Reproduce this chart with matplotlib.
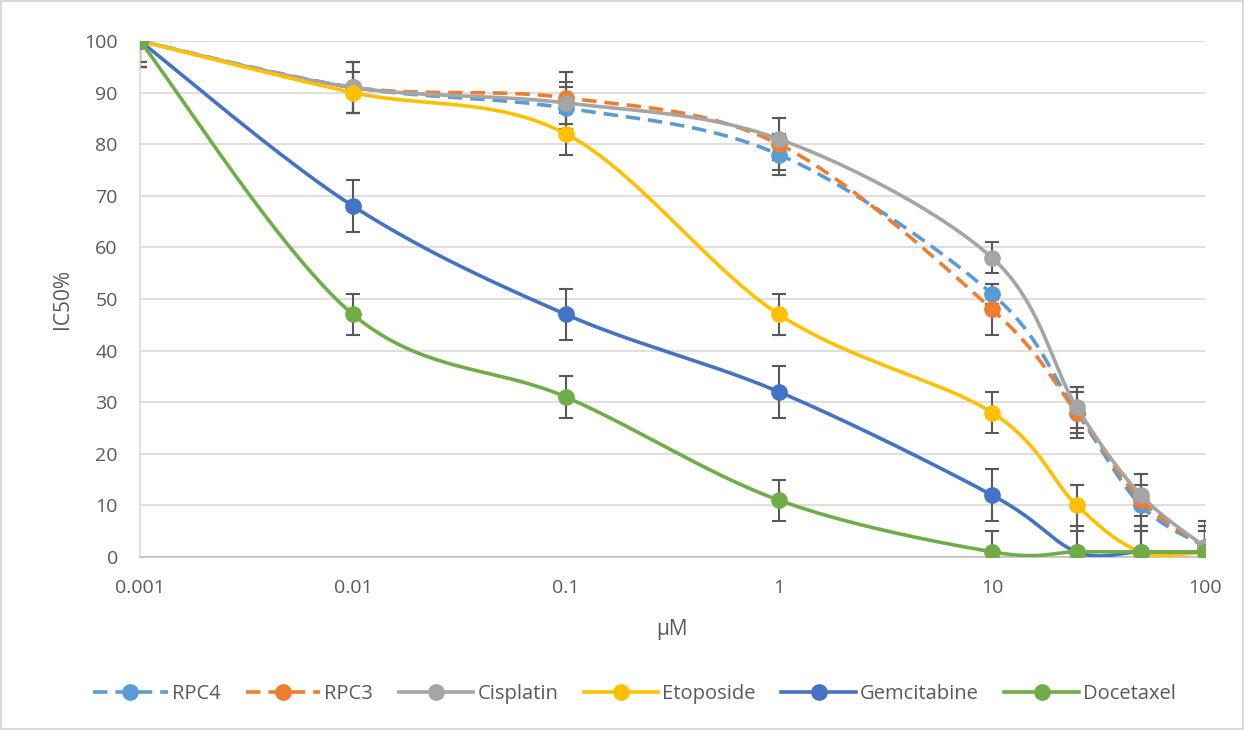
import numpy as np
import matplotlib.pyplot as plt

doses = [0.001, 0.01, 0.1, 1, 10, 25, 50, 100]
x_ticks = [0.001, 0.01, 0.1, 1, 10, 100]
x_tick_labels = ["0.001", "0.01", "0.1", "1", "10", "100"]

names = ["RPC4", "RPC3", "Cisplatin", "Etoposide", "Gemcitabine", "Docetaxel"]
rpc4 = [100, 91, 87, 78, 51, 28, 10, 2]
rpc3 = [100, 91, 89, 80, 48, 28, 11, 2]
cisplatin = [100, 91, 88, 81, 58, 29, 12, 2]
etoposide = [100, 90, 82, 47, 28, 10, 1, 1]
gemcitabine = [100, 68, 47, 32, 12, 1, 1, 1]
docetaxel = [100, 47, 31, 11, 1, 1, 1, 1]

rpc4_err = [5, 5, 4, 4, 2, 4, 4, 4]
rpc3_err = [5, 5, 5, 5, 5, 5, 5, 5]
cisplatin_err = [5, 5, 4, 4, 3, 4, 4, 4]
etoposide_err = [4, 4, 4, 4, 4, 4, 4, 4]
gemcitabine_err = [5, 5, 5, 5, 5, 5, 5, 5]
docetaxel_err = [4, 4, 4, 4, 4, 4, 4, 4]

colors = ["#5B9BD5", "#ED7D31", "#A5A5A5", "#FFC000", "#4472C4", "#70AD47"]
dashed = [True, True, False, False, False, False]

plt.rcParams['font.family'] = ['Open Sans', 'DejaVu Sans']
TXT = "#595959"

# pixel scale used for the smoothing (Excel smooths in screen space)
SX = 213.0   # px per decade
SY = 5.16    # px per unit


def smooth(xs, ys, n=40):
    u = np.log10(xs) * SX
    v = np.array(ys, dtype=float) * SY
    P = np.column_stack([u, v])
    m = len(P)
    out = []
    for i in range(m - 1):
        p0 = P[i - 1] if i > 0 else P[i]
        p1 = P[i]
        p2 = P[i + 1]
        p3 = P[i + 2] if i + 2 < m else P[i + 1]
        c1 = p1 + (p2 - p0) / 6.0
        c2 = p2 - (p3 - p1) / 6.0
        t = np.linspace(0, 1, n)[:, None]
        seg = ((1 - t) ** 3) * p1 + 3 * ((1 - t) ** 2) * t * c1 + 3 * (1 - t) * t ** 2 * c2 + t ** 3 * p2
        out.append(seg if i == 0 else seg[1:])
    pts = np.vstack(out)
    return 10 ** (pts[:, 0] / SX), pts[:, 1] / SY


fig = plt.figure(figsize=(12.44, 7.30), dpi=100)
fig.patch.set_edgecolor("#D9D9D9")
fig.patch.set_linewidth(1.5)
ax = fig.add_axes([140 / 1244, 1 - 557 / 730, (1205 - 140) / 1244, (557 - 41) / 730])

series = [rpc4, rpc3, cisplatin, etoposide, gemcitabine, docetaxel]
errs = [rpc4_err, rpc3_err, cisplatin_err, etoposide_err, gemcitabine_err, docetaxel_err]

handles = []
for k, (name, ys, es, c, d) in enumerate(zip(names, series, errs, colors, dashed)):
    ax.errorbar(doses, ys, yerr=es, fmt="none", ecolor="#595959", elinewidth=1.5,
                capsize=5, capthick=1.5, zorder=2 + k * 0.1)
    sx, sy = smooth(doses, ys)
    ls = (0, (4, 2.2)) if d else "-"
    ax.plot(sx, sy, color=c, lw=2.6, ls=ls, zorder=3 + k * 0.1)
    ax.plot(doses, ys, "o", color=c, ms=11, zorder=3.05 + k * 0.1)
    h, = ax.plot([], [], color=c, lw=2.6, ls=ls, marker="o", ms=11, label=name)
    handles.append(h)

ax.set_xscale("log")
ax.set_xlim(0.001, 100)
ax.set_ylim(0, 100)
ax.set_xticks(x_ticks)
ax.set_xticklabels(x_tick_labels)
ax.xaxis.set_minor_locator(plt.NullLocator())
ax.set_yticks(range(0, 101, 10))
ax.grid(axis="y", color="#D9D9D9", lw=1.2)
ax.set_axisbelow(True)
for s in ["top", "right"]:
    ax.spines[s].set_visible(False)
ax.spines["left"].set_color("#D9D9D9")
ax.spines["bottom"].set_color("#BFBFBF")
ax.spines["left"].set_linewidth(1.2)
ax.spines["bottom"].set_linewidth(1.2)
ax.tick_params(axis="x", length=0, labelsize=14, colors=TXT, pad=16)
ax.tick_params(axis="y", length=0, labelsize=14, colors=TXT, pad=16)
ax.set_xlabel("µM", fontsize=15, color=TXT, labelpad=16)
ax.set_ylabel("IC50%", fontsize=15, color=TXT, labelpad=8)

fig.legend(handles=handles, loc="center", bbox_to_anchor=(0.51, 1 - 694 / 730), ncol=6,
           frameon=False, fontsize=14.5, labelcolor=TXT, handlelength=3.7,
           columnspacing=1.27, handletextpad=0.2)

fig.savefig("out.png", dpi=100)
